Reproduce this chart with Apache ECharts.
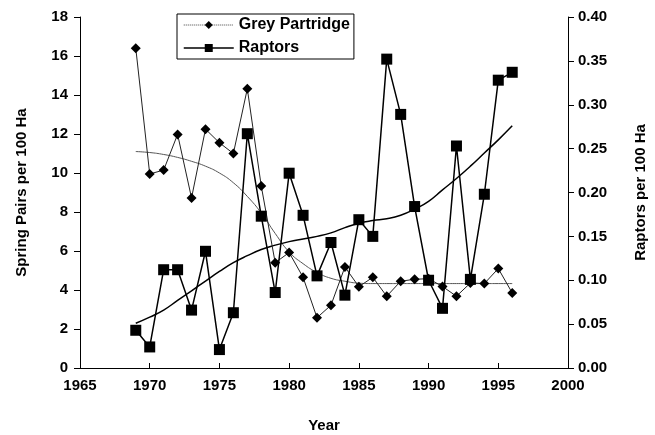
<!DOCTYPE html>
<html>
<head>
<meta charset="utf-8">
<script src="https://cdn.jsdelivr.net/npm/echarts@6/dist/echarts.min.js"></script>
<style>
html,body{margin:0;padding:0;background:#fff;}
#c{width:655px;height:435px;}
</style>
</head>
<body>
<div id="c"></div>
<script>
var years = [1969,1970,1971,1972,1973,1974,1975,1976,1977,1978,1979,1980,1981,1982,1983,1984,1985,1986,1987,1988,1989,1990,1991,1992,1993,1994,1995,1996];
var partridge = [16.4,9.95,10.15,11.98,8.72,12.25,11.55,11.0,14.32,9.33,5.4,5.92,4.65,2.58,3.22,5.18,4.17,4.65,3.68,4.45,4.55,4.58,4.18,3.68,4.36,4.33,5.1,3.85];
var raptors = [0.043,0.024,0.112,0.112,0.066,0.133,0.021,0.063,0.267,0.173,0.086,0.222,0.174,0.105,0.143,0.083,0.169,0.150,0.352,0.289,0.184,0.100,0.068,0.253,0.101,0.198,0.328,0.337];
var partridgeTrend = [11.1,11.05,10.95,10.8,10.6,10.35,10.0,9.5,8.8,7.95,6.9,5.95,5.35,4.9,4.6,4.45,4.35,4.33,4.33,4.33,4.33,4.33,4.33,4.33,4.33,4.33,4.33,4.33];
var raptorsTrend = [0.051,0.058,0.066,0.077,0.088,0.099,0.110,0.120,0.128,0.135,0.140,0.144,0.147,0.150,0.154,0.160,0.165,0.168,0.170,0.174,0.181,0.190,0.203,0.216,0.230,0.245,0.260,0.276];

function pairs(vals){ return years.map(function(y,i){ return [y, vals[i]]; }); }

var font = 'Liberation Sans, Arial, sans-serif';
var chart = echarts.init(document.getElementById('c'), null, {renderer:'canvas'});
chart.setOption({
  animation:false,
  backgroundColor:'#fff',
  grid:{left:80,right:87,top:17,bottom:67,containLabel:false,outerBoundsMode:'none'},
  legend:{
    left:177, top:14, orient:'vertical',
    itemWidth:50, itemHeight:10, itemGap:7,
    padding:[3,4,3,6],
    borderColor:'#000', borderWidth:1,
    textStyle:{fontFamily:font,fontWeight:'bold',fontSize:16,color:'#000'},
    data:[
      {name:'Grey Partridge', lineStyle:{type:'dotted',width:1,color:'#444'}},
      {name:'Raptors', lineStyle:{type:'solid',width:1.5,color:'#000'}}
    ]
  },
  xAxis:{
    type:'value', min:1965, max:2000, interval:5,
    name:'Year', nameLocation:'middle', nameGap:50,
    nameTextStyle:{fontFamily:font,fontWeight:'bold',fontSize:15,color:'#000'},
    axisLine:{show:true,lineStyle:{color:'#000',width:1}},
    axisTick:{show:true,inside:true,length:5,lineStyle:{color:'#000'}},
    axisLabel:{fontFamily:font,fontWeight:'bold',fontSize:15,color:'#000',margin:10,formatter:function(v){return String(v);}},
    splitLine:{show:false}
  },
  yAxis:[
    {
      type:'value', min:0, max:18, interval:2, position:'left',
      name:'Spring Pairs per 100 Ha', nameLocation:'middle', nameGap:51, nameRotate:90,
      nameTextStyle:{fontFamily:font,fontWeight:'bold',fontSize:15,color:'#000'},
      axisLine:{show:true,lineStyle:{color:'#000',width:1}},
      axisTick:{show:true,length:6,lineStyle:{color:'#000'}},
      axisLabel:{fontFamily:font,fontWeight:'bold',fontSize:15,color:'#000',margin:12},
      splitLine:{show:false}
    },
    {
      type:'value', min:0, max:0.4, interval:0.05, position:'right',
      name:'Raptors per 100 Ha', nameLocation:'middle', nameGap:65, nameRotate:90,
      nameTextStyle:{fontFamily:font,fontWeight:'bold',fontSize:15,color:'#000'},
      axisLine:{show:true,lineStyle:{color:'#000',width:1}},
      axisTick:{show:true,length:6,lineStyle:{color:'#000'}},
      axisLabel:{fontFamily:font,fontWeight:'bold',fontSize:15,color:'#000',margin:10,formatter:function(v){return v.toFixed(2);}},
      splitLine:{show:false}
    }
  ],
  series:[
    {
      name:'Partridge trend', type:'line', yAxisIndex:0, data:pairs(partridgeTrend),
      smooth:true, showSymbol:false, symbol:'none',
      lineStyle:{color:'#555',width:1}, silent:true, z:1
    },
    {
      name:'Raptors trend', type:'line', yAxisIndex:1, data:pairs(raptorsTrend),
      smooth:true, showSymbol:false, symbol:'none',
      lineStyle:{color:'#000',width:1.5}, silent:true, z:1
    },
    {
      name:'Grey Partridge', type:'line', yAxisIndex:0, data:pairs(partridge),
      symbol:'diamond', symbolSize:10, showAllSymbol:true,
      lineStyle:{color:'#222',width:1}, itemStyle:{color:'#000'}, z:2
    },
    {
      name:'Raptors', type:'line', yAxisIndex:1, data:pairs(raptors),
      symbol:'rect', symbolSize:11, showAllSymbol:true,
      lineStyle:{color:'#000',width:1.5}, itemStyle:{color:'#000'}, z:3
    }
  ]
});
</script>
</body>
</html>
